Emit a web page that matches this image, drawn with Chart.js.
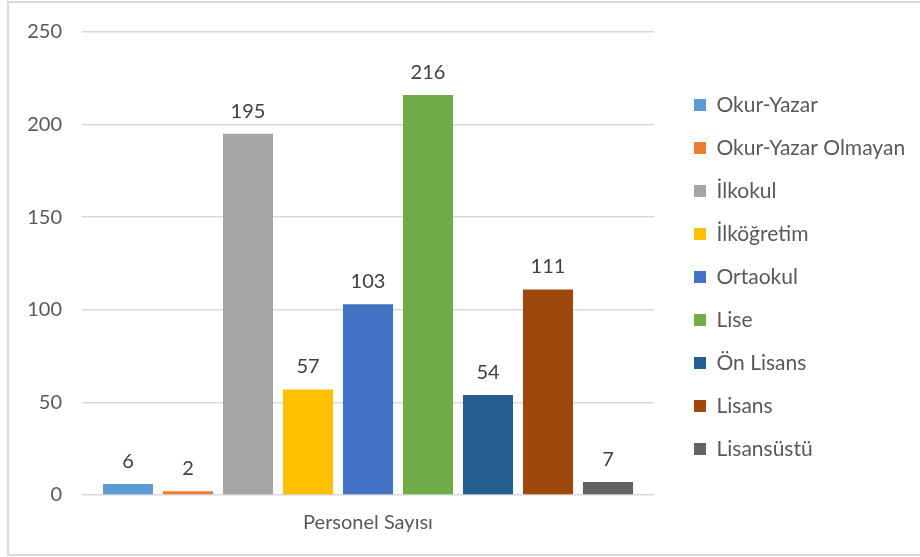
<!DOCTYPE html>
<html>
<head>
<meta charset="utf-8">
<script src="https://cdn.jsdelivr.net/npm/chart.js@4/dist/chart.umd.min.js"></script>
<style>
  body { margin: 0; background: #fff; }
  #frame {
    position: absolute; left: 7px; top: 1px;
    width: 930px; height: 551px;
    border: 2px solid #d9d9d9;
  }
  #wrap { position: absolute; left: 0; top: 0; width: 920px; height: 557px; }
</style>
</head>
<body>
<div id="frame"></div>
<div id="wrap"><canvas id="educationChart"></canvas></div>
<script>
const categories = ["Personel Sayısı"];
const seriesNames = [
  "Okur-Yazar",
  "Okur-Yazar Olmayan",
  "İlkokul",
  "İlköğretim",
  "Ortaokul",
  "Lise",
  "Ön Lisans",
  "Lisans",
  "Lisansüstü",
];
const seriesValues = [6, 2, 195, 57, 103, 216, 54, 111, 7];
const seriesColors = [
  "#5b9bd5",
  "#ed7d31",
  "#a5a5a5",
  "#ffc000",
  "#4472c4",
  "#70ad47",
  "#255e91",
  "#9e480e",
  "#636363",
];
const yMin = 0;
const yMax = 250;
const yStep = 50;

const fontFamily = "Lato, 'Open Sans', sans-serif";
const fontSize = 20;
const legendFontSize = 21;
const legendPad = 22;
const legendLeft = 694 - legendPad;
const leftShift = 80; // negative left padding, gives the legend more room

Chart.defaults.font.family = fontFamily;
Chart.defaults.font.size = fontSize;
Chart.defaults.color = "#595959";

// legend width depends on the longest label, keep its left edge fixed
function legendPaddingRight() {
  const ctx = document.createElement("canvas").getContext("2d");
  ctx.font = legendFontSize + "px " + fontFamily;
  let widest = 0;
  seriesNames.forEach((name) => {
    widest = Math.max(widest, ctx.measureText(name).width);
  });
  const legendWidth = legendPad + 12 + legendFontSize / 2 + widest + 10;
  return 920 - legendLeft - legendWidth;
}

// value labels above each bar
const barValueLabels = {
  id: "barValueLabels",
  afterDatasetsDraw(chart) {
    const ctx = chart.ctx;
    ctx.save();
    ctx.font = fontSize + "px " + fontFamily;
    ctx.fillStyle = "#404040";
    ctx.textAlign = "center";
    ctx.textBaseline = "alphabetic";
    chart.data.datasets.forEach((dataset, i) => {
      const meta = chart.getDatasetMeta(i);
      meta.data.forEach((bar, j) => {
        ctx.fillText(dataset.data[j], bar.x, bar.y - 16);
      });
    });
    ctx.restore();
  },
};

function initializeChart() {
  const ctx = document.getElementById("educationChart").getContext("2d");

  new Chart(ctx, {
    type: "bar",
    data: {
      labels: categories,
      datasets: seriesNames.map((name, i) => ({
        label: name,
        data: [seriesValues[i]],
        backgroundColor: seriesColors[i],
        borderWidth: 0,
        categoryPercentage: 540 / 572,
        barPercentage: 50 / 60,
      })),
    },
    options: {
      responsive: true,
      maintainAspectRatio: false,
      animation: false,
      layout: {
        padding: {
          top: 14,
          bottom: 17,
          left: -leftShift,
          right: legendPaddingRight(),
        },
      },
      plugins: {
        legend: {
          position: "right",
          align: "center",
          labels: {
            boxWidth: 12,
            boxHeight: 12,
            padding: legendPad,
            color: "#595959",
            font: { size: legendFontSize },
          },
        },
        tooltip: { enabled: false },
      },
      scales: {
        x: {
          grid: { display: false },
          border: { display: false },
          ticks: { padding: 8, color: "#595959" },
          afterFit: function (scale) {
            scale.height = 45;
          },
        },
        y: {
          min: yMin,
          max: yMax,
          grid: {
            color: "#d9d9d9",
            lineWidth: 1.5,
            drawTicks: false,
          },
          border: { display: false },
          ticks: {
            stepSize: yStep,
            padding: 20,
            color: "#595959",
          },
          afterFit: function (scale) {
            scale.width = 82 + leftShift;
          },
        },
        // invisible spacer boxes around the plot area
        gapTop: {
          type: "category",
          position: "top",
          display: false,
          afterFit: function (scale) {
            scale.height = 16;
          },
        },
        gapRight: {
          type: "linear",
          position: "right",
          display: false,
          afterFit: function (scale) {
            scale.width = legendLeft - 654;
          },
        },
      },
    },
    plugins: [barValueLabels],
  });
}

initializeChart();
</script>
</body>
</html>
